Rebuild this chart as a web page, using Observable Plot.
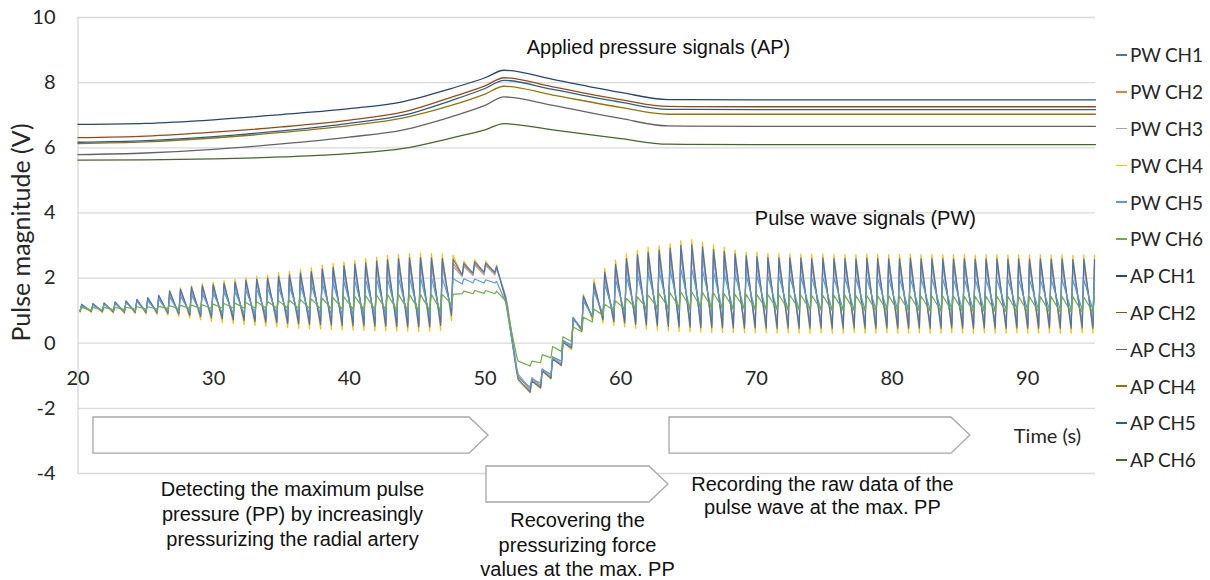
<!DOCTYPE html>
<html>
<head>
<meta charset="utf-8">
<script src="https://cdn.jsdelivr.net/npm/d3@7"></script>
<script src="https://cdn.jsdelivr.net/npm/@observablehq/plot@0.6"></script>
<style>
  html, body { margin: 0; padding: 0; background: #fff; }
  #wrap { position: relative; width: 1210px; height: 580px; overflow: hidden; }
  #wrap svg { position: absolute; left: 0; top: 0; }
  #legend { position: absolute; left: 1116px; top: 36.6px; font-family: Lato, "Open Sans", sans-serif; font-size: 19px; letter-spacing: -0.2px; color: #262626; }
  #legend .item { height: 36.8px; display: flex; align-items: center; white-space: nowrap; }
  #legend .dash { display: inline-block; width: 11px; height: 1.5px; margin-right: 3px; }
</style>
</head>
<body>
<div id="wrap"><div id="legend"></div></div>
<script>
// ---------------- data ----------------
const xTicks = [20, 30, 40, 50, 60, 70, 80, 90];
const yTicks = [-4, -2, 0, 2, 4, 6, 8, 10];

const pwNames = ["PW CH1", "PW CH2", "PW CH3", "PW CH4", "PW CH5", "PW CH6"];
const apNames = ["AP CH1", "AP CH2", "AP CH3", "AP CH4", "AP CH5", "AP CH6"];
const pwColors = ["#4472C4", "#ED7D31", "#A5A5A5", "#FFC000", "#5B9BD5", "#70AD47"];
const apColors = ["#264478", "#9E480E", "#636363", "#997300", "#255E91", "#43682B"];

// time of each systolic peak (s)
const beatT = [
  20.27, 21.10, 21.92, 22.73, 23.54, 24.34, 25.14, 25.95, 26.75, 27.55,
  28.36, 29.16, 29.96, 30.76, 31.57, 32.37, 33.17, 33.97, 34.78, 35.58,
  36.39, 37.19, 38.00, 38.80, 39.60, 40.40, 41.20, 42.01, 42.81, 43.62,
  44.43, 45.24, 46.05, 46.85, 47.65, 48.44, 49.24, 50.05, 50.85, 51.65,
  52.45, 53.45, 54.22, 54.98, 55.75, 56.50, 57.25, 58.03, 58.82, 59.62,
  60.42, 61.23, 62.02, 62.83, 63.64, 64.43, 65.24, 66.03, 66.84, 67.63,
  68.43, 69.25, 70.04, 70.85, 71.66, 72.47, 73.28, 74.08, 74.90, 75.72,
  76.53, 77.34, 78.14, 78.94, 79.75, 80.55, 81.35, 82.14, 82.94, 83.74,
  84.53, 85.33, 86.13, 86.93, 87.73, 88.54, 89.33, 90.13, 90.93, 91.73,
  92.53, 93.33, 94.14, 94.93
];
// upstroke duration (foot -> peak), s
const riseTime = 0.12;

// PW CH1
const pwPeak1 = [
  1.20,1.22,1.24,1.27,1.30,1.35,1.40,1.47,1.60,1.66, 1.72,1.77,1.80,1.84,1.88,1.93,1.97,2.00,2.05,2.10,
  2.16,2.20,2.28,2.33,2.38,2.43,2.47,2.52,2.57,2.60, 2.62,2.63,2.62,2.60,2.58,2.45,2.50,2.46,2.36,1.05,
  -1.10,-1.16,-0.85,-0.49,0.02,0.79,1.45,1.85,2.18,2.42, 2.60,2.72,2.80,2.86,2.92,3.00,3.02,2.96,2.88,2.82,
  2.74,2.68,2.66,2.64,2.62,2.62,2.61,2.60,2.61,2.60, 2.60,2.59,2.61,2.60,2.59,2.60,2.61,2.59,2.60,2.59,
  2.59,2.60,2.58,2.59,2.59,2.58,2.59,2.58,2.59,2.58, 2.59,2.57,2.58,2.57];
const pwFoot1 = [
  0.98,0.97,0.97,0.96,0.95,0.95,0.94,0.93,0.92,0.90, 0.86,0.82,0.78,0.75,0.72,0.70,0.67,0.65,0.63,0.61,
  0.60,0.58,0.57,0.56,0.55,0.54,0.53,0.52,0.52,0.51, 0.50,0.50,0.50,0.55,0.85,2.10,2.15,2.18,2.18,1.35,
  -0.85,-1.50,-1.37,-1.08,-0.68,-0.15,0.40,0.80,0.72,0.66, 0.62,0.58,0.56,0.54,0.52,0.50,0.49,0.48,0.48,0.47,
  0.47,0.46,0.47,0.46,0.46,0.47,0.46,0.46,0.47,0.46, 0.46,0.47,0.46,0.46,0.47,0.46,0.46,0.47,0.46,0.46,
  0.47,0.46,0.46,0.47,0.46,0.46,0.47,0.46,0.46,0.47, 0.46,0.46,0.47,0.46];
// PW CH2
const pwPeak2 = [
  1.18,1.20,1.22,1.25,1.28,1.32,1.37,1.43,1.52,1.58, 1.63,1.68,1.72,1.76,1.80,1.84,1.88,1.92,1.96,2.00,
  2.05,2.10,2.16,2.21,2.26,2.30,2.34,2.38,2.42,2.45, 2.47,2.48,2.48,2.47,2.45,2.40,2.44,2.42,2.33,1.15,
  -1.00,-1.10,-0.82,-0.45,0.05,0.75,1.35,1.72,2.05,2.28, 2.45,2.56,2.64,2.70,2.75,2.82,2.84,2.80,2.73,2.67,
  2.60,2.55,2.53,2.51,2.50,2.50,2.49,2.48,2.49,2.48, 2.48,2.47,2.49,2.48,2.47,2.48,2.49,2.47,2.48,2.47,
  2.47,2.48,2.46,2.47,2.47,2.46,2.47,2.46,2.47,2.46, 2.47,2.45,2.46,2.45];
const pwFoot2 = [
  0.99,0.98,0.98,0.97,0.97,0.96,0.96,0.95,0.94,0.92, 0.89,0.86,0.83,0.80,0.78,0.76,0.74,0.72,0.70,0.69,
  0.68,0.66,0.65,0.64,0.63,0.62,0.61,0.60,0.60,0.59, 0.59,0.58,0.58,0.62,0.92,2.08,2.12,2.15,2.15,1.40,
  -0.78,-1.45,-1.33,-1.05,-0.65,-0.12,0.42,0.82,0.76,0.71, 0.68,0.65,0.63,0.61,0.60,0.58,0.57,0.56,0.56,0.55,
  0.55,0.55,0.56,0.55,0.55,0.56,0.55,0.55,0.56,0.55, 0.55,0.56,0.55,0.55,0.56,0.55,0.55,0.56,0.55,0.55,
  0.56,0.55,0.55,0.56,0.55,0.55,0.56,0.55,0.55,0.56, 0.55,0.55,0.56,0.55];
// PW CH3
const pwPeak3 = [
  1.16,1.18,1.20,1.23,1.26,1.30,1.34,1.40,1.48,1.54, 1.58,1.63,1.67,1.71,1.75,1.79,1.83,1.86,1.90,1.94,
  1.98,2.03,2.08,2.13,2.17,2.21,2.25,2.29,2.32,2.35, 2.37,2.38,2.38,2.37,2.35,2.35,2.40,2.38,2.30,1.20,
  -0.95,-1.05,-0.78,-0.42,0.08,0.72,1.30,1.65,1.96,2.18, 2.34,2.45,2.52,2.58,2.63,2.70,2.72,2.68,2.61,2.55,
  2.49,2.44,2.42,2.40,2.39,2.39,2.38,2.37,2.38,2.37, 2.37,2.36,2.38,2.37,2.36,2.37,2.38,2.36,2.37,2.36,
  2.36,2.37,2.35,2.36,2.36,2.35,2.36,2.35,2.36,2.35, 2.36,2.34,2.35,2.34];
const pwFoot3 = [
  0.99,0.99,0.98,0.98,0.97,0.97,0.96,0.96,0.95,0.93, 0.91,0.88,0.86,0.83,0.81,0.79,0.77,0.76,0.74,0.73,
  0.72,0.70,0.69,0.68,0.67,0.66,0.65,0.65,0.64,0.64, 0.63,0.63,0.63,0.66,0.95,2.05,2.08,2.10,2.10,1.45,
  -0.72,-1.40,-1.30,-1.02,-0.62,-0.10,0.44,0.84,0.79,0.74, 0.71,0.68,0.66,0.64,0.63,0.62,0.61,0.60,0.60,0.60,
  0.60,0.59,0.60,0.59,0.59,0.60,0.59,0.59,0.60,0.59, 0.59,0.60,0.59,0.59,0.60,0.59,0.59,0.60,0.59,0.59,
  0.60,0.59,0.59,0.60,0.59,0.59,0.60,0.59,0.59,0.60, 0.59,0.59,0.60,0.59];
// PW CH4
const pwPeak4 = [
  1.15,1.18,1.20,1.24,1.28,1.33,1.38,1.45,1.62,1.70, 1.77,1.83,1.88,1.92,1.97,2.02,2.06,2.10,2.16,2.20,
  2.27,2.32,2.40,2.45,2.50,2.55,2.60,2.64,2.70,2.72, 2.75,2.76,2.75,2.74,2.70,2.52,2.56,2.52,2.40,1.00,
  -1.15,-1.16,-0.85,-0.45,0.05,0.80,1.50,1.95,2.30,2.55, 2.74,2.85,2.94,3.00,3.06,3.15,3.18,3.10,3.02,2.95,
  2.86,2.80,2.80,2.76,2.75,2.74,2.74,2.73,2.74,2.72, 2.73,2.72,2.74,2.73,2.72,2.73,2.74,2.72,2.73,2.72,
  2.72,2.73,2.71,2.72,2.72,2.71,2.72,2.71,2.72,2.71, 2.72,2.70,2.71,2.70];
const pwFoot4 = [
  0.95,0.95,0.94,0.93,0.92,0.91,0.90,0.88,0.86,0.82, 0.77,0.72,0.67,0.63,0.60,0.57,0.55,0.52,0.50,0.48,
  0.46,0.45,0.43,0.42,0.41,0.40,0.39,0.38,0.38,0.37, 0.37,0.36,0.37,0.40,0.70,2.05,2.10,2.12,2.12,1.30,
  -0.90,-1.52,-1.39,-1.10,-0.70,-0.20,0.35,0.70,0.62,0.55, 0.50,0.46,0.43,0.40,0.38,0.36,0.35,0.34,0.33,0.33,
  0.33,0.32,0.32,0.32,0.31,0.32,0.31,0.31,0.32,0.31, 0.31,0.32,0.31,0.31,0.32,0.31,0.31,0.32,0.31,0.31,
  0.32,0.31,0.31,0.32,0.31,0.31,0.32,0.31,0.31,0.32, 0.31,0.31,0.32,0.31];
// PW CH5
const pwPeak5 = [
  1.15,1.17,1.20,1.22,1.25,1.28,1.30,1.35,1.42,1.45, 1.48,1.52,1.55,1.58,1.60,1.63,1.66,1.70,1.72,1.75,
  1.78,1.80,1.84,1.87,1.90,1.92,1.95,1.98,2.00,2.02, 2.03,2.03,2.02,2.00,1.98,1.98,1.97,1.95,1.90,0.95,
  -1.05,-1.10,-0.80,-0.42,0.08,0.78,1.30,1.60,1.80,1.95, 2.05,2.12,2.18,2.22,2.25,2.28,2.28,2.25,2.20,2.15,
  2.12,2.10,2.08,2.07,2.06,2.05,2.04,2.03,2.03,2.02, 2.02,2.01,2.01,2.00,2.00,2.00,1.99,1.99,1.99,1.98,
  1.98,1.98,1.97,1.97,1.97,1.97,1.96,1.96,1.96,1.96, 1.96,1.95,1.95,1.95];
const pwFoot5 = [
  1.00,1.00,1.00,0.99,0.98,0.98,0.97,0.97,0.97,0.96, 0.95,0.94,0.93,0.92,0.91,0.90,0.90,0.89,0.88,0.88,
  0.87,0.87,0.86,0.86,0.85,0.85,0.85,0.84,0.84,0.84, 0.83,0.83,0.84,0.88,1.10,1.82,1.85,1.85,1.85,1.25,
  -0.80,-1.35,-1.22,-0.95,-0.55,-0.05,0.45,0.85,0.90,0.92, 0.94,0.95,0.96,0.97,0.98,0.99,1.00,1.00,1.00,1.00,
  1.00,1.01,1.00,1.01,1.01,1.00,1.01,1.01,1.00,1.01, 1.01,1.00,1.01,1.01,1.02,1.01,1.01,1.02,1.01,1.01,
  1.02,1.01,1.02,1.02,1.01,1.02,1.02,1.01,1.02,1.02, 1.02,1.01,1.02,1.02];
// PW CH6
const pwPeak6 = [
  1.10,1.10,1.10,1.10,1.10,1.12,1.12,1.13,1.15,1.16, 1.17,1.18,1.20,1.22,1.23,1.25,1.27,1.28,1.30,1.32,
  1.34,1.36,1.38,1.40,1.42,1.44,1.46,1.48,1.50,1.50, 1.50,1.50,1.50,1.50,1.50,1.60,1.62,1.62,1.60,1.00,
  -0.55,-0.55,-0.35,-0.10,0.20,0.50,0.80,1.05,1.20,1.30, 1.38,1.42,1.48,1.52,1.55,1.58,1.58,1.56,1.54,1.52,
  1.50,1.50,1.49,1.49,1.48,1.48,1.48,1.47,1.47,1.47, 1.47,1.46,1.46,1.46,1.46,1.45,1.45,1.45,1.45,1.45,
  1.45,1.44,1.44,1.44,1.44,1.44,1.43,1.43,1.43,1.43, 1.43,1.43,1.42,1.42];
const pwFoot6 = [
  0.98,1.00,1.02,1.03,1.04,1.05,1.05,1.05,1.06,1.06, 1.07,1.07,1.07,1.08,1.08,1.08,1.08,1.08,1.08,1.08,
  1.07,1.07,1.06,1.06,1.05,1.05,1.04,1.04,1.03,1.02, 1.02,1.00,1.00,1.00,1.20,1.52,1.52,1.53,1.52,1.30,
  -0.40,-0.70,-0.60,-0.45,-0.25,0.05,0.35,0.65,0.85,1.00, 1.05,1.07,1.08,1.09,1.10,1.10,1.10,1.10,1.09,1.08,
  1.07,1.06,1.05,1.05,1.04,1.03,1.03,1.02,1.02,1.01, 1.01,1.00,1.00,1.00,0.99,0.99,0.99,0.98,0.98,0.98,
  0.98,0.97,0.97,0.97,0.97,0.96,0.96,0.96,0.96,0.96, 0.95,0.95,0.95,0.95];

// applied pressure: key readings (time, V)
const apT   = [20, 25, 30, 35, 40, 44, 47.5, 50, 51.4, 55, 60, 63.5, 70, 80, 95];
const apCH1 = [6.72, 6.75, 6.86, 7.02, 7.20, 7.42, 7.82, 8.15, 8.38, 8.10, 7.70, 7.48, 7.47, 7.47, 7.47];
const apCH2 = [6.31, 6.36, 6.48, 6.64, 6.85, 7.10, 7.55, 7.90, 8.15, 7.87, 7.48, 7.27, 7.26, 7.26, 7.26];
const apCH3 = [5.79, 5.84, 5.95, 6.12, 6.33, 6.55, 6.95, 7.30, 7.56, 7.30, 6.90, 6.67, 6.66, 6.66, 6.66];
const apCH4 = [6.13, 6.18, 6.30, 6.47, 6.68, 6.92, 7.30, 7.65, 7.89, 7.62, 7.24, 7.03, 7.03, 7.03, 7.03];
const apCH5 = [6.17, 6.22, 6.34, 6.52, 6.75, 7.00, 7.45, 7.82, 8.07, 7.79, 7.40, 7.18, 7.17, 7.17, 7.17];
const apCH6 = [5.62, 5.63, 5.66, 5.72, 5.82, 5.98, 6.30, 6.55, 6.74, 6.55, 6.28, 6.11, 6.10, 6.10, 6.10];

// phases of the protocol (time spans of the arrows)
const phaseText = [
  "Detecting the maximum pulse\npressure (PP) by increasingly\npressurizing the radial artery",
  "Recovering the\npressurizing force\nvalues at the max. PP",
  "Recording the raw data of the\npulse wave at the max. PP"
];
const phaseStart = [21.14, 50.11, 63.60];
const phaseEnd   = [50.26, 63.52, 85.78];

// ---------------- build tables ----------------
const pwPeaks = [pwPeak1, pwPeak2, pwPeak3, pwPeak4, pwPeak5, pwPeak6];
const pwFeet  = [pwFoot1, pwFoot2, pwFoot3, pwFoot4, pwFoot5, pwFoot6];
const apVals  = [apCH1, apCH2, apCH3, apCH4, apCH5, apCH6];

function pwRows(c) {
  const rows = [];
  beatT.forEach((t, k) => {
    rows.push({t: t - riseTime, v: pwFeet[c][k], s: pwNames[c]});
    rows.push({t: t, v: pwPeaks[c][k], s: pwNames[c]});
  });
  return rows;
}
const apRows = apVals.flatMap((vals, c) => apT.map((t, i) => ({t, v: vals[i], s: apNames[c]})));

const drawOrder = [3, 1, 2, 0, 4, 5];
const calibri = "Lato, 'Open Sans', sans-serif";
const arial = "'Liberation Sans', Arial, sans-serif";

// rows of the arrows in value units
const arrowRows = [[-2.28, -3.39], [-3.785, -4.89], [-2.28, -3.39]];

function arrows(index, scales) {
  const g = d3.create("svg:g").attr("fill", "#fff").attr("stroke", "#a6a6a6").attr("stroke-width", 1.3);
  phaseStart.forEach((s, i) => {
    const x0 = scales.x(s), x1 = scales.x(phaseEnd[i]);
    const y0 = scales.y(arrowRows[i][0]), y1 = scales.y(arrowRows[i][1]);
    const tip = 19;
    g.append("path").attr("d",
      `M${x0},${y0}H${x1 - tip}L${x1},${(y0 + y1) / 2}L${x1 - tip},${y1}H${x0}Z`);
  });
  return g.node();
}

const chart = Plot.plot({
  width: 1210,
  height: 580,
  marginLeft: 77.5,
  marginRight: 115,
  marginTop: 17,
  marginBottom: 107,
  x: {domain: [20, 95], axis: null},
  y: {domain: [-4, 10], axis: null},
  style: {fontFamily: calibri, background: "transparent", overflow: "visible"},
  marks: [
    Plot.ruleY(yTicks, {stroke: "#d9d9d9", strokeWidth: 1.3}),
    Plot.ruleX([20], {stroke: "#d9d9d9", strokeWidth: 1.3}),
    ...drawOrder.map(c => Plot.line(pwRows(c), {x: "t", y: "v", stroke: pwColors[c], strokeWidth: 1.2})),
    ...apNames.map((n, c) => Plot.line(apRows.filter(d => d.s === n), {x: "t", y: "v", stroke: apColors[c], strokeWidth: 1.3, curve: "monotone-x"})),
    // axes
    Plot.text(yTicks, {x: () => 20, y: d => d, text: d => String(d), dx: -22.5, textAnchor: "end", fontSize: 20, fill: "#262626"}),
    Plot.text(xTicks, {x: d => d, y: () => 0, text: d => String(d), dy: 35, fontSize: 20, fill: "#262626"}),
    Plot.text(["Pulse magnitude (V)"], {x: () => 20, y: () => 3.4, dx: -56, rotate: -90, fontSize: 25, fill: "#262626"}),
    Plot.text(["Time (s)"], {x: () => 91.46, y: () => -2.86, fontSize: 20, fill: "#262626"}),
    // annotations
    Plot.text(["Applied pressure signals (AP)"], {x: () => 62.79, y: () => 9.08, fontFamily: arial, fontSize: 20, fill: "#111"}),
    Plot.text(["Pulse wave signals (PW)"], {x: () => 78.04, y: () => 3.83, fontFamily: arial, fontSize: 20, fill: "#111"}),
    arrows,
    Plot.text([phaseText[0]], {x: () => 35.81, y: () => -5.20, fontFamily: arial, fontSize: 20, lineHeight: 1.25, fill: "#111"}),
    Plot.text([phaseText[1]], {x: () => 56.82, y: () => -6.16, fontFamily: arial, fontSize: 20, lineHeight: 1.22, fill: "#111"}),
    Plot.text([phaseText[2]], {x: () => 74.87, y: () => -4.66, fontFamily: arial, fontSize: 20, lineHeight: 1.15, fill: "#111"})
  ]
});
document.getElementById("wrap").appendChild(chart);

// legend
const legend = document.getElementById("legend");
[...pwNames.map((n, i) => [n, pwColors[i]]), ...apNames.map((n, i) => [n, apColors[i]])].forEach(([n, col]) => {
  const item = document.createElement("div");
  item.className = "item";
  const dash = document.createElement("span");
  dash.className = "dash";
  dash.style.background = col;
  item.appendChild(dash);
  item.appendChild(document.createTextNode(n));
  legend.appendChild(item);
});
</script>
</body>
</html>
